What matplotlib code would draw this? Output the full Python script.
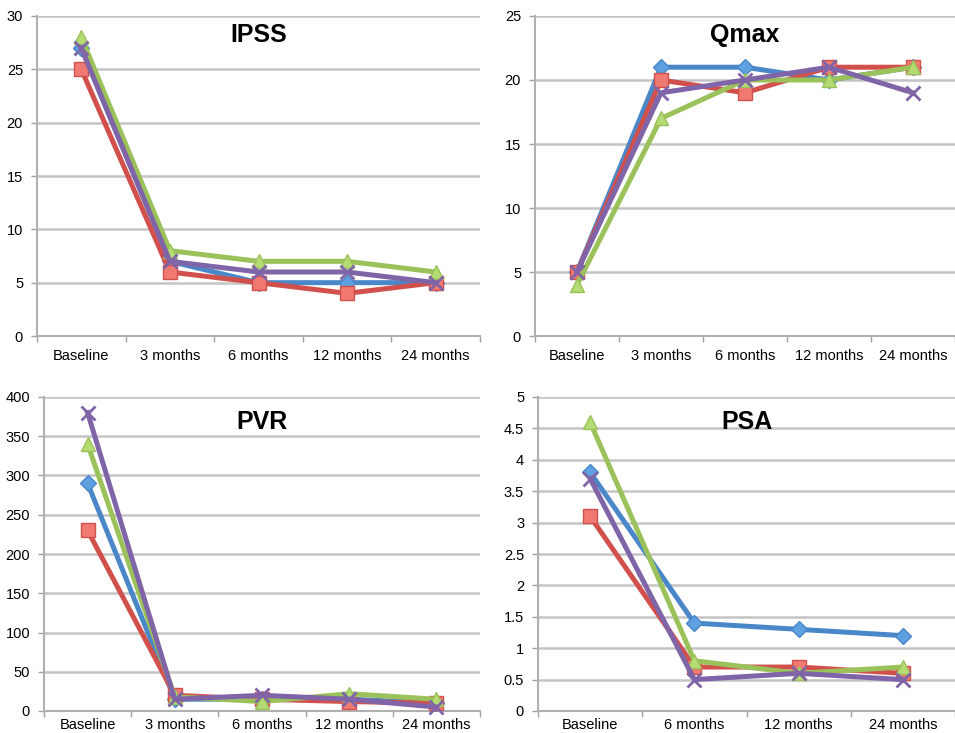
import matplotlib
matplotlib.use("Agg")
import matplotlib.pyplot as plt

plt.rcParams['font.family'] = ['Liberation Sans', 'DejaVu Sans']

cats5 = ["Baseline", "3 months", "6 months", "12 months", "24 months"]
cats4 = ["Baseline", "6 months", "12 months", "24 months"]

ipss_blue = [27, 7, 5, 5, 5]
ipss_red = [25, 6, 5, 4, 5]
ipss_green = [28, 8, 7, 7, 6]
ipss_purple = [27, 7, 6, 6, 5]

qmax_blue = [5, 21, 21, 20, 21]
qmax_red = [5, 20, 19, 21, 21]
qmax_green = [4, 17, 20, 20, 21]
qmax_purple = [5, 19, 20, 21, 19]

pvr_blue = [290, 15, 15, 15, 10]
pvr_red = [230, 20, 15, 12, 10]
pvr_green = [340, 18, 12, 22, 15]
pvr_purple = [380, 15, 20, 15, 5]

psa_blue = [3.8, 1.4, 1.3, 1.2]
psa_red = [3.1, 0.7, 0.7, 0.6]
psa_green = [4.6, 0.8, 0.6, 0.7]
psa_purple = [3.7, 0.5, 0.6, 0.5]

W, H = 955, 733
fig = plt.figure(figsize=(W / 100, H / 100), dpi=100)
fig.patch.set_facecolor('white')

styles = [
    dict(color='#4a87c8', marker='D', mfc='#5fa0e0', mec='#4a87c8', ms=8),
    dict(color='#d2504c', marker='s', mfc='#f07a72', mec='#d2504c', ms=10),
    dict(color='#9bc25a', marker='^', mfc='#b4dc72', mec='#9bc25a', ms=10),
    dict(color='#8064a8', marker='x', mfc='#8064a8', mec='#8064a8', ms=10, mew=2),
]


def make_ax(rect_px, cats, series, ymax, ystep, title, title_y, tick_fmt, xpad):
    l, t, r, b = rect_px
    ax = fig.add_axes([l / W, 1 - b / H, (r - l) / W, (b - t) / H])
    x = list(range(len(cats)))
    for s, st in zip(series, styles):
        ax.plot(x, s, lw=3.6, zorder=3, clip_on=False, **st)
    ax.set_xlim(-0.5, len(cats) - 0.5)
    ax.set_ylim(0, ymax)
    n = int(round(ymax / ystep))
    yt = [i * ystep for i in range(n + 1)]
    ax.set_yticks(yt)
    ax.set_yticklabels([tick_fmt(v) for v in yt], fontsize=10.5)
    ax.set_xticks(x)
    ax.set_xticklabels(cats, fontsize=10.5)
    ax.set_xticks([i - 0.5 for i in range(len(cats) + 1)], minor=True)
    ax.tick_params(axis='x', which='major', length=0, pad=xpad)
    ax.tick_params(axis='x', which='minor', length=4, color='#a0a0a0', width=1)
    ax.tick_params(axis='y', length=4, color='#a0a0a0', width=1, pad=6)
    ax.grid(axis='y', color='#c4c4c4', lw=1.8, zorder=0)
    ax.set_axisbelow(True)
    for sp in ['top', 'right']:
        ax.spines[sp].set_visible(False)
    for sp in ['left', 'bottom']:
        ax.spines[sp].set_color('#b0b0b0')
        ax.spines[sp].set_linewidth(1.5)
    ax.text(0.5, title_y, title, transform=ax.transAxes, ha='center', va='center',
            fontsize=18, fontweight='bold')
    return ax


def fmt_int(v):
    return str(int(round(v)))


def fmt_psa(v):
    return str(int(v)) if abs(v - round(v)) < 1e-9 else str(v)


make_ax((37, 16, 480, 336), cats5, [ipss_blue, ipss_red, ipss_green, ipss_purple],
        30, 5, "IPSS", 0.94, fmt_int, 9)
make_ax((535, 16, 955, 336), cats5, [qmax_blue, qmax_red, qmax_green, qmax_purple],
        25, 5, "Qmax", 0.94, fmt_int, 9)
make_ax((44, 397, 480, 711), cats5, [pvr_blue, pvr_red, pvr_green, pvr_purple],
        400, 50, "PVR", 0.92, fmt_int, 5)
make_ax((538, 397, 955, 711), cats4, [psa_blue, psa_red, psa_green, psa_purple],
        5, 0.5, "PSA", 0.92, fmt_psa, 5)

fig.savefig("out.png", dpi=100, facecolor='white')
